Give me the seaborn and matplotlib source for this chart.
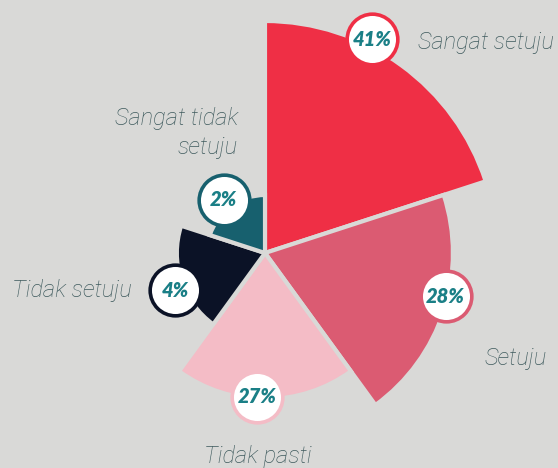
import numpy as np
import matplotlib.pyplot as plt
import seaborn as sns

# %% data
categories = ["Sangat setuju", "Setuju", "Tidak pasti", "Tidak setuju", "Sangat tidak\nsetuju"]
percent = [41, 28, 27, 4, 2]
# drawn wedge length (relative to the longest), as it appears in the picture
lengths = [100, 81, 63, 38, 25]
colors = ["#EF2F45", "#DB5B72", "#F4BCC6", "#0B1226", "#17606E"]

bg = "#D9D9D7"
pct_color = "#1A7F86"
label_color = "#3E5A5D"

# %%
sns.set_theme(style="white", rc={"figure.facecolor": bg, "axes.facecolor": bg})

W, H = 558, 468
fig = plt.figure(figsize=(W / 100, H / 100), dpi=100)
cx, cy, half = 265, H - 253, 240
ax = fig.add_axes([(cx - half) / W, (cy - half) / H, 2 * half / W, 2 * half / H],
                  projection="polar")
ax.set_theta_zero_location("N")
ax.set_theta_direction(-1)
ax.set_ylim(0, half / 2.32)

step = 360 / len(percent)
theta = np.deg2rad(np.arange(len(percent)) * step + step / 2)
ax.bar(theta, lengths, width=np.deg2rad(step), color=colors,
       edgecolor=bg, linewidth=3, zorder=2)
ax.axis("off")

# badges with the percentages
badge_pos = [(26.6, 103), (103.4, 80), (183, 62), (247.6, 42), (322, 29)]
for (ang, r), p, c in zip(badge_pos, percent, colors):
    ax.scatter(np.deg2rad(ang), r, s=1330, c="white", edgecolors=c,
               linewidths=2.6, zorder=3, clip_on=False)
    ax.text(np.deg2rad(ang), r, f"{p}%", ha="center", va="center",
            fontsize=14.5, color=pct_color, family="Lato", weight="heavy",
            style="italic", zorder=4)

# category labels
label_pos = [(418, 42, "left"), (547, 358, "right"), (258, 457, "center"),
             (132, 291, "right"), (238, 133, "right")]
for (x, y, ha), name in zip(label_pos, categories):
    fig.text(x / W, 1 - y / H, name, ha=ha, va="center", fontsize=17,
             color=label_color, family="Roboto", weight="light", style="italic",
             linespacing=1.3, multialignment="right")

fig.savefig("out.png", dpi=100, facecolor=bg)
